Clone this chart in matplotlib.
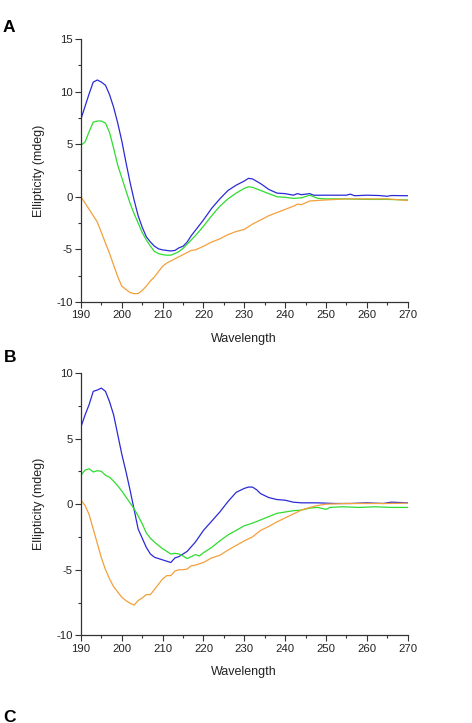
import numpy as np
import matplotlib.pyplot as plt
from matplotlib.ticker import MultipleLocator

plt.rcParams['font.family'] = ['Liberation Sans', 'DejaVu Sans']
plt.rcParams['axes.unicode_minus'] = False

# Panel A
wl_a_blue = [190, 191, 192, 193, 194, 195, 196, 197, 198, 199, 200, 201, 202, 203, 204, 205, 206, 207, 208,
             209, 210, 211, 212, 213, 214, 215, 216, 217, 218, 220, 222, 224, 226, 228, 230, 231, 232, 234,
             236, 238, 240, 242, 243, 244, 246, 247, 250, 255, 256, 257, 260, 263, 265, 266, 270]
a_blue = [7.4, 8.6, 9.8, 10.9, 11.1, 10.9, 10.6, 9.7, 8.5, 7.0, 5.3, 3.3, 1.4, -0.3, -1.8, -2.9, -3.8, -4.3,
          -4.7, -4.95, -5.05, -5.1, -5.15, -5.1, -4.85, -4.7, -4.3, -3.7, -3.2, -2.2, -1.1, -0.2, 0.6, 1.1,
          1.5, 1.75, 1.7, 1.25, 0.7, 0.35, 0.3, 0.15, 0.3, 0.2, 0.3, 0.15, 0.15, 0.15, 0.25, 0.1, 0.15, 0.12,
          0.05, 0.12, 0.1]

wl_a_green = [190, 191, 192, 193, 194, 195, 196, 197, 198, 199, 200, 201, 202, 203, 204, 205, 206, 207, 208,
              209, 210, 211, 212, 213, 214, 215, 216, 218, 220, 222, 224, 226, 228, 230, 231, 232, 234, 236,
              238, 240, 242, 244, 246, 248, 250, 255, 260, 265, 270]
a_green = [4.9, 5.2, 6.2, 7.1, 7.2, 7.2, 7.0, 6.1, 4.6, 3.0, 1.8, 0.6, -0.6, -1.6, -2.5, -3.4, -4.1, -4.7,
           -5.2, -5.4, -5.5, -5.55, -5.55, -5.4, -5.2, -4.9, -4.5, -3.7, -2.8, -1.8, -0.9, -0.2, 0.35, 0.8,
           0.95, 0.9, 0.6, 0.3, 0.0, -0.05, -0.15, -0.1, 0.15, -0.15, -0.2, -0.2, -0.25, -0.25, -0.3]

wl_a_orange = [190, 191, 192, 193, 194, 195, 196, 197, 198, 199, 200, 201, 202, 203, 204, 205, 206, 207, 208,
               209, 210, 211, 212, 214, 216, 217, 218, 220, 222, 224, 226, 228, 230, 232, 234, 236, 238, 240,
               242, 243, 244, 246, 248, 250, 255, 260, 265, 270]
a_orange = [0.0, -0.6, -1.2, -1.8, -2.4, -3.4, -4.4, -5.4, -6.5, -7.6, -8.5, -8.8, -9.1, -9.2, -9.2, -8.9,
            -8.5, -8.0, -7.6, -7.1, -6.6, -6.3, -6.1, -5.7, -5.3, -5.1, -5.05, -4.7, -4.3, -4.0, -3.6, -3.3,
            -3.1, -2.6, -2.2, -1.8, -1.5, -1.2, -0.9, -0.7, -0.75, -0.4, -0.35, -0.3, -0.2, -0.2, -0.2, -0.35]

# Panel B
wl_b_blue = [190, 191, 192, 193, 194, 195, 196, 197, 198, 199, 200, 201, 202, 203, 204, 205, 206, 207, 208,
             209, 210, 211, 212, 213, 214, 215, 216, 218, 220, 222, 224, 226, 228, 230, 231, 232, 233, 234,
             236, 238, 240, 242, 244, 248, 252, 256, 260, 264, 266, 270]
b_blue = [5.9, 6.8, 7.6, 8.6, 8.7, 8.85, 8.6, 7.8, 6.8, 5.3, 3.8, 2.5, 1.1, -0.4, -1.9, -2.6, -3.3, -3.8,
          -4.05, -4.15, -4.25, -4.35, -4.45, -4.1, -4.0, -3.8, -3.6, -2.9, -2.0, -1.3, -0.6, 0.2, 0.9, 1.2,
          1.3, 1.3, 1.1, 0.8, 0.5, 0.35, 0.3, 0.15, 0.1, 0.1, 0.05, 0.05, 0.1, 0.05, 0.15, 0.1]

wl_b_green = [190, 191, 192, 193, 194, 195, 196, 197, 198, 199, 200, 201, 202, 203, 204, 205, 206, 207, 208,
              209, 210, 211, 212, 213, 214, 215, 216, 217, 218, 219, 220, 222, 224, 226, 228, 230, 232, 234,
              236, 238, 240, 242, 244, 246, 248, 250, 251, 254, 258, 262, 266, 270]
b_green = [2.2, 2.6, 2.7, 2.45, 2.55, 2.5, 2.2, 2.05, 1.75, 1.4, 1.0, 0.55, 0.1, -0.35, -0.9, -1.5, -2.2,
           -2.6, -2.9, -3.15, -3.4, -3.6, -3.8, -3.75, -3.8, -3.95, -4.15, -4.0, -3.85, -3.95, -3.7, -3.3,
           -2.8, -2.35, -2.0, -1.65, -1.45, -1.2, -0.95, -0.7, -0.6, -0.5, -0.45, -0.3, -0.25, -0.4, -0.25,
           -0.2, -0.25, -0.2, -0.25, -0.25]

wl_b_orange = [190, 191, 192, 193, 194, 195, 196, 197, 198, 199, 200, 201, 202, 203, 204, 205, 206, 207, 208,
               209, 210, 211, 212, 213, 214, 215, 216, 217, 218, 220, 222, 224, 226, 228, 230, 232, 234, 236,
               238, 240, 242, 244, 246, 248, 250, 255, 260, 265, 270]
b_orange = [0.3, -0.1, -0.8, -1.9, -3.0, -4.1, -5.0, -5.7, -6.3, -6.7, -7.1, -7.35, -7.55, -7.7, -7.35,
            -7.15, -6.9, -6.9, -6.5, -6.1, -5.7, -5.45, -5.45, -5.1, -5.0, -5.0, -4.95, -4.7, -4.65, -4.45,
            -4.1, -3.9, -3.5, -3.15, -2.8, -2.5, -2.0, -1.7, -1.35, -1.05, -0.75, -0.45, -0.25, -0.1, 0.0,
            0.05, 0.05, 0.05, 0.08]

blue = '#2b2bd6'
green = '#2fdc2f'
orange = '#f2a03c'
txt = '#222222'


def style_axes(ax, ymin, ymax):
    ax.set_xlim(190, 270)
    ax.set_ylim(ymin, ymax)
    ax.spines['top'].set_visible(False)
    ax.spines['right'].set_visible(False)
    for s in ['left', 'bottom']:
        ax.spines[s].set_linewidth(0.9)
        ax.spines[s].set_color('#333333')
    ax.xaxis.set_major_locator(MultipleLocator(10))
    ax.xaxis.set_minor_locator(MultipleLocator(5))
    ax.yaxis.set_major_locator(MultipleLocator(5))
    ax.yaxis.set_minor_locator(MultipleLocator(2.5))
    ax.tick_params(which='major', length=4, width=0.8, labelsize=8.2, colors='#333333', labelcolor=txt, pad=2)
    ax.tick_params(which='minor', length=2.5, width=0.8, colors='#333333')
    ax.set_xlabel('Wavelength', fontsize=9, color=txt, labelpad=9)
    ax.set_ylabel('Ellipticity (mdeg)', fontsize=9, color=txt, labelpad=8)


fig = plt.figure(figsize=(4.72, 7.23), dpi=100)

ax1 = fig.add_axes([0.1716, 0.5823, 0.692, 0.3638])
ax1.plot(wl_a_blue, a_blue, color=blue, lw=0.9)
ax1.plot(wl_a_green, a_green, color=green, lw=0.9)
ax1.plot(wl_a_orange, a_orange, color=orange, lw=0.9)
style_axes(ax1, -10, 15)

ax2 = fig.add_axes([0.1716, 0.1213, 0.692, 0.3628])
ax2.plot(wl_b_blue, b_blue, color=blue, lw=0.9)
ax2.plot(wl_b_green, b_green, color=green, lw=0.9)
ax2.plot(wl_b_orange, b_orange, color=orange, lw=0.9)
style_axes(ax2, -10, 10)

fig.text(0.006, 1 - 19.5 / 723, 'A', fontsize=12.5, fontweight='bold', va='top')
fig.text(0.008, 1 - 349.5 / 723, 'B', fontsize=12.5, fontweight='bold', va='top')
fig.text(0.006, 1 - 710.5 / 723, 'C', fontsize=12.5, fontweight='bold', va='top')

fig.savefig('out.png', dpi=100)
